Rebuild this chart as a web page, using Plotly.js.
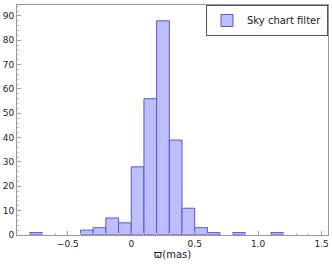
<!DOCTYPE html>
<html><head><meta charset="utf-8">
<script src="https://cdn.plot.ly/plotly-3.0.1.min.js"></script>
<style>body{margin:0;background:#fff}#c{width:332px;height:266px}</style>
</head><body><div id="c"></div>
<script>
const binStarts = [-0.8, -0.4, -0.3, -0.2, -0.1, 0.0, 0.1, 0.2, 0.3, 0.4, 0.5, 0.6, 0.8, 1.1];
const counts    = [1, 2, 3, 7, 5, 28, 56, 88, 39, 11, 3, 1, 1, 1];
const binWidth = 0.1;
const xTickVals = [-0.5, 0, 0.5, 1.0, 1.5];
const xTickText = ["\u22120.5", "0", "0.5", "1.0", "1.5"];
const yTickVals = [0,10,20,30,40,50,60,70,80,90];
const seriesName = "Sky chart filter";

const trace = {
  type: 'bar',
  x: binStarts,
  y: counts,
  width: binStarts.map(() => binWidth),
  offset: 0,
  name: seriesName,
  showlegend: true,
  marker: {color: 'rgb(190,190,250)', line: {color: 'rgb(85,85,225)', width: 1}}
};
const fnt = {family: 'DejaVu Sans, sans-serif', size: 9, color: '#222'};
const layout = {
  width: 332, height: 266,
  margin: {l: 17, r: 4, t: 5, b: 31},
  paper_bgcolor: '#fff', plot_bgcolor: '#fff',
  font: fnt,
  bargap: 0,
  showlegend: true,
  legend: {x: 1, y: 1, xanchor: 'right', yanchor: 'top', bordercolor: '#555', borderwidth: 1,
           bgcolor: '#fff', font: {family: 'DejaVu Sans, sans-serif', size: 10, color: '#222'},
           itemwidth: 30, tracegroupgap: 0},
  xaxis: {range: [-0.9, 1.55], tickvals: xTickVals, ticktext: xTickText, showgrid: false, zeroline: false,
          showline: true, linecolor: '#999', linewidth: 1, mirror: true,
          ticks: 'inside', ticklen: 4, tickcolor: '#999',
          minor: {ticks: 'inside', ticklen: 2, tickcolor: '#bbb', dtick: 0.1},
          tickfont: fnt,
          title: {text: '\u03D6(mas)', font: {family: 'DejaVu Sans, sans-serif', size: 10, color: '#222'}, standoff: 1}},
  yaxis: {range: [0, 94.5], tickvals: yTickVals, showgrid: false, zeroline: false,
          showline: true, linecolor: '#999', linewidth: 1, mirror: true,
          ticks: 'inside', ticklen: 4, tickcolor: '#999',
          minor: {ticks: 'inside', ticklen: 2, tickcolor: '#bbb', dtick: 2},
          tickfont: fnt}
};
Plotly.newPlot('c', [trace], layout, {staticPlot: true, displayModeBar: false});
</script></body></html>
